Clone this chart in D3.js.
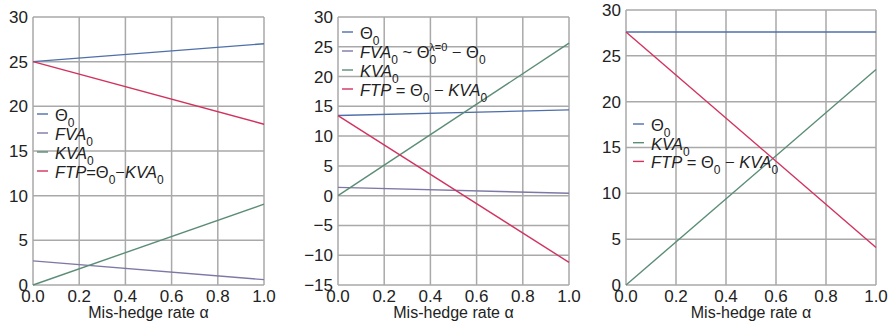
<!DOCTYPE html>
<html lang="en">
<script src='https://d3js.org/d3.v7.min.js'></script>
<style>
  body {margin:0; background:#fff;}
  text {font-family: "Liberation Sans", Arial, sans-serif; fill:#222;}
</style>
<body>
<svg width=891 height=325></svg>
<script>
    // mis-hedge rate alpha (x values of every series)
    var alpha = [0, 1];
    var xTicks = [0, 0.2, 0.4, 0.6, 0.8, 1.0];

    // panel 1
    var theta1 = [25, 27];
    var fva1 = [2.7, 0.6];
    var kva1 = [0, 9.05];
    var ftp1 = [25, 18];
    var yTicks1 = [0, 5, 10, 15, 20, 25, 30];

    // panel 2
    var theta2 = [13.45, 14.4];
    var fva2 = [1.4, 0.4];
    var kva2 = [0, 25.6];
    var ftp2 = [13.45, -11.2];
    var yTicks2 = [-15, -10, -5, 0, 5, 10, 15, 20, 25, 30];

    // panel 3
    var theta3 = [27.6, 27.6];
    var kva3 = [0, 23.5];
    var ftp3 = [27.6, 4.1];
    var yTicks3 = [0, 5, 10, 15, 20, 25, 30];

    var colors = {theta: "#4f6fa9", fva: "#7d78a6", kva: "#5b8d76", ftp: "#d2325f"};
    var gridColor = "#a9a9a9";

    // legend label pieces: [text, style]  i = italic, s = subscript, p = superscript
    var lblTheta = [["Θ", ""], ["0", "s"]];
    var lblFva = [["FVA", "i"], ["0", "s"]];
    var lblKva = [["KVA", "i"], ["0", "s"]];
    var lblFtp1 = [["FTP", "i"], ["=Θ", ""], ["0", "s"], ["−", ""], ["KVA", "i"], ["0", "s"]];
    var lblFva2 = [["FVA", "i"], ["0", "s"], [" ~ Θ", ""], ["0", "s"], ["λ=0", "p"], [" − Θ", ""], ["0", "s"]];
    var lblFtp2 = [["FTP", "i"], [" = Θ", ""], ["0", "s"], [" − ", ""], ["KVA", "i"], ["0", "s"]];

    var panels = [
        {left: 33, right: 264, top: 17, bottom: 285, domain: [0, 30], ticks: yTicks1,
         legend: {x: 37, y: 114, step: 19},
         series: [
             {vals: theta1, color: colors.theta, label: lblTheta},
             {vals: fva1, color: colors.fva, label: lblFva},
             {vals: kva1, color: colors.kva, label: lblKva},
             {vals: ftp1, color: colors.ftp, label: lblFtp1}
         ]},
        {left: 338, right: 569, top: 17, bottom: 285, domain: [-15, 30], ticks: yTicks2,
         legend: {x: 342, y: 32, step: 19},
         series: [
             {vals: theta2, color: colors.theta, label: lblTheta},
             {vals: fva2, color: colors.fva, label: lblFva2},
             {vals: kva2, color: colors.kva, label: lblKva},
             {vals: ftp2, color: colors.ftp, label: lblFtp2}
         ]},
        {left: 626, right: 876, top: 10, bottom: 285, domain: [0, 30], ticks: yTicks3,
         legend: {x: 633, y: 124, step: 18.7},
         series: [
             {vals: theta3, color: colors.theta, label: lblTheta},
             {vals: kva3, color: colors.kva, label: lblKva},
             {vals: ftp3, color: colors.ftp, label: lblFtp2}
         ]}
    ];

    var svg = d3.select("svg");

    panels.forEach(function (p) {
        var x = d3.scaleLinear().domain([0, 1]).range([p.left, p.right]);
        var y = d3.scaleLinear().domain(p.domain).range([p.bottom, p.top]);
        var g = svg.append("g");

        // grid
        g.selectAll(".vg").data(xTicks).enter().append("line")
            .attr("x1", function (d) { return x(d); }).attr("x2", function (d) { return x(d); })
            .attr("y1", p.top).attr("y2", p.bottom)
            .attr("stroke", gridColor).attr("stroke-width", 1.5);
        g.selectAll(".hg").data(p.ticks).enter().append("line")
            .attr("y1", function (d) { return y(d); }).attr("y2", function (d) { return y(d); })
            .attr("x1", p.left).attr("x2", p.right)
            .attr("stroke", gridColor).attr("stroke-width", 1.5);

        // tick labels
        g.selectAll(".yl").data(p.ticks).enter().append("text")
            .attr("x", p.left - 5).attr("y", function (d) { return y(d); })
            .attr("dy", "0.35em").attr("text-anchor", "end")
            .style("font-size", "17px")
            .text(function (d) { return d < 0 ? "\u2212" + (-d) : d; });
        g.selectAll(".xl").data(xTicks).enter().append("text")
            .attr("x", function (d) { return x(d); }).attr("y", 302)
            .attr("text-anchor", "middle")
            .style("font-size", "17px")
            .text(function (d) { return d3.format(".1f")(d); });
        g.append("text")
            .attr("x", (p.left + p.right) / 2).attr("y", 318)
            .attr("text-anchor", "middle")
            .style("font-size", "16px")
            .text("Mis-hedge rate α");

        // series
        var line = d3.line()
            .x(function (d, i) { return x(alpha[i]); })
            .y(function (d) { return y(d); });
        p.series.forEach(function (s) {
            g.append("path").datum(s.vals)
                .attr("d", line)
                .attr("fill", "none")
                .attr("stroke", s.color)
                .attr("stroke-width", 1.4);
        });

        // legend
        p.series.forEach(function (s, i) {
            var ly = p.legend.y + i * p.legend.step;
            g.append("line")
                .attr("x1", p.legend.x).attr("x2", p.legend.x + 11)
                .attr("y1", ly).attr("y2", ly)
                .attr("stroke", s.color).attr("stroke-width", 1.4);
            var t = g.append("text")
                .attr("x", p.legend.x + 18).attr("y", ly + 7)
                .style("font-size", "16.5px");
            var prev = "";
            s.label.forEach(function (seg) {
                var ts = t.append("tspan").text(seg[0]);
                if (seg[1] === "i") ts.style("font-style", "italic");
                if (seg[1] === "s") {
                    ts.style("font-size", "12px").attr("dy", 6);
                } else if (seg[1] === "p") {
                    ts.style("font-size", "11px").attr("dx", -7).attr("dy", -13);
                } else if (prev === "s") {
                    ts.attr("dy", -6);
                } else if (prev === "p") {
                    ts.attr("dy", 7);
                }
                prev = seg[1];
            });
        });
    });
</script>
</body>
</html>
